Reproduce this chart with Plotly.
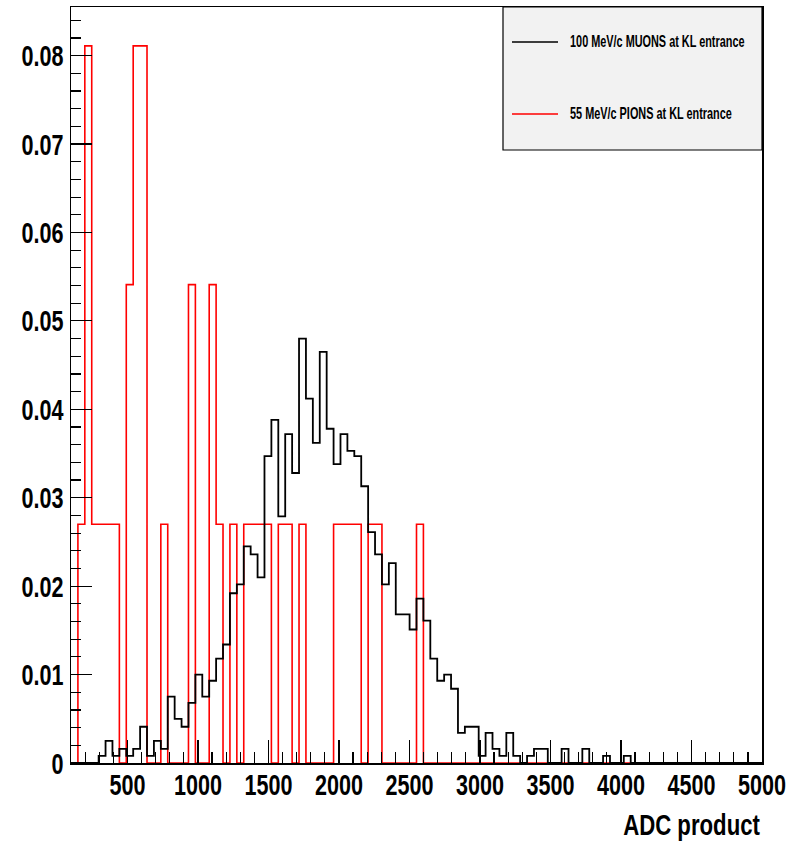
import numpy as np
import plotly.graph_objects as go

# Histogram binning (100 bins from 100 to 5000)
BIN_LOW = 100
BIN_HIGH = 5000
N_BINS = 100

# Normalised contents per bin (bins 0..80, rest zero)
muon_values = [
    0, 0, 0, 0, 0.0008, 0.0025, 0.0008, 0.0016, 0.0008, 0.0016,
    0.0041, 0.0008, 0.0025, 0.0016, 0.0075, 0.0050, 0.0041, 0.0068, 0.0100, 0.0075,
    0.0093, 0.0118, 0.0134, 0.0192, 0.0202, 0.0245, 0.0236, 0.0210, 0.0347, 0.0388,
    0.0279, 0.0372, 0.0328, 0.0480, 0.0412, 0.0362, 0.0465, 0.0378, 0.0338, 0.0372,
    0.0353, 0.0347, 0.0313, 0.0261, 0.0236, 0.0202, 0.0226, 0.0168, 0.0168, 0.0151,
    0.0186, 0.0161, 0.0118, 0.0093, 0.0100, 0.0084, 0.0034, 0.0041, 0.0041, 0.0008,
    0.0034, 0.0016, 0.0008, 0.0034, 0.0008, 0, 0.0008, 0.0016, 0.0016, 0,
    0, 0.0016, 0, 0, 0.0016, 0, 0, 0.0008, 0, 0,
    0.0008,
]
pion_values = [
    0, 0.0270, 0.0811, 0.0270, 0.0270, 0.0270, 0.0270, 0, 0.0541, 0.0811,
    0.0811, 0, 0, 0.0270, 0, 0, 0, 0.0541, 0, 0,
    0.0541, 0.0270, 0, 0.0270, 0, 0.0270, 0.0270, 0.0270, 0.0270, 0,
    0.0270, 0.0270, 0, 0.0270, 0, 0, 0, 0, 0.0270, 0.0270,
    0.0270, 0.0270, 0, 0.0270, 0.0270, 0, 0, 0, 0, 0,
    0.0270,
]

muon_label = "100 MeV/c MUONS at KL entrance"
pion_label = "55 MeV/c PIONS at KL entrance"
x_title = "ADC product"

x_tickvals = [500, 1000, 1500, 2000, 2500, 3000, 3500, 4000, 4500, 5000]
y_tickvals = [0, 0.01, 0.02, 0.03, 0.04, 0.05, 0.06, 0.07, 0.08]

edges = np.linspace(BIN_LOW, BIN_HIGH, N_BINS + 1)


def step_xy(vals):
    full = list(vals) + [0] * (N_BINS - len(vals))
    xs = list(edges[:-1]) + [edges[-1]]
    ys = full + [0]
    return xs, ys


FONT = "Liberation Sans, Arial, sans-serif"

fig = go.Figure()
px, py = step_xy(pion_values)
fig.add_trace(go.Scatter(x=px, y=py, mode="lines", line=dict(color="#ff0000", width=1.6, shape="hv"),
                         name=pion_label, showlegend=False, hoverinfo="skip"))
mx, my = step_xy(muon_values)
fig.add_trace(go.Scatter(x=mx, y=my, mode="lines", line=dict(color="#000000", width=1.8, shape="hv"),
                         name=muon_label, showlegend=False, hoverinfo="skip"))

L, R, T, B = 71, 37, 7, 80
W, H = 799, 843
PW, PH = W - L - R, H - T - B

fig.update_layout(
    width=W, height=H,
    margin=dict(l=L, r=R, t=T, b=B, autoexpand=False),
    paper_bgcolor="white", plot_bgcolor="white",
    font=dict(family=FONT, color="black"),
    showlegend=False,
)
fig.update_xaxes(
    range=[BIN_LOW, BIN_HIGH], showgrid=False, zeroline=False, automargin=False,
    showline=True, linecolor="black", linewidth=1.5, mirror=True,
    ticks="inside", ticklen=23, tickwidth=1.2, tickcolor="black",
    tickvals=x_tickvals, ticktext=[str(v) for v in x_tickvals],
    tickfont=dict(family=FONT, size=30, weight="bold"),
    minor=dict(dtick=100, tick0=0, ticks="inside", ticklen=11, tickwidth=1.2, tickcolor="black"),
)
fig.update_yaxes(
    range=[0, 0.0855], showgrid=False, zeroline=False, automargin=False,
    showline=True, linecolor="black", linewidth=1.5, mirror=True,
    ticks="inside", ticklen=21, tickwidth=1.2, tickcolor="black",
    tickvals=y_tickvals, ticktext=["0"] + ["%.2f" % v for v in y_tickvals[1:]],
    tickfont=dict(family=FONT, size=30, weight="bold"),
    minor=dict(dtick=0.002, tick0=0, ticks="inside", ticklen=10, tickwidth=1.2, tickcolor="black"),
)

# axis title, right-aligned at the end of the axis
fig.add_annotation(text="<b>" + x_title + "</b>", xref="paper", yref="paper", x=1.0, y=0,
                   xanchor="right", yanchor="top", yshift=-43, showarrow=False,
                   font=dict(family=FONT, size=30, color="black"))


# legend box (drawn manually to reproduce the ROOT TLegend layout)
def px_x(v):
    return (v - L) / PW


def px_y(v):
    return (H - B - v) / PH


fig.add_shape(type="rect", xref="paper", yref="paper", x0=px_x(503), x1=1.0,
              y0=px_y(150), y1=1.0, line=dict(color="black", width=1.2),
              fillcolor="#f2f2f2", layer="above")
for label, color, ypx in [(muon_label, "black", 42), (pion_label, "red", 114)]:
    yp = px_y(ypx)
    fig.add_shape(type="line", xref="paper", yref="paper",
                  x0=px_x(512), x1=px_x(558), y0=yp, y1=yp,
                  line=dict(color=color, width=1.6), layer="above")
    fig.add_annotation(text="<b>" + label + "</b>", xref="paper", yref="paper",
                       x=px_x(568), y=yp, xanchor="left", yanchor="middle",
                       showarrow=False, font=dict(family=FONT, size=17, color="black"))

# The reference uses a condensed rendering of Helvetica; squeeze text horizontally.
post = """
document.body.style.margin = '0';
document.body.style.padding = '0';
(function(){
  var gd = document.getElementById('{plot_id}');
  function squeeze(){
    gd.querySelectorAll('.xtick text').forEach(function(t){ apply(t, 0.72, 'c', -5); });
    gd.querySelectorAll('.ytick text').forEach(function(t){ apply(t, 0.72, 'r', 0); });
    gd.querySelectorAll('.annotation-text').forEach(function(t){
      if (t.textContent.indexOf('ADC') >= 0) { apply(t, 0.74, 'r', 0); }
      else { apply(t, 0.64, 'l', 0); }
    });
  }
  function apply(t, s, mode, dy){
    var tr = t.getAttribute('transform') || '';
    if (tr.indexOf('scale(') >= 0) return;
    var b = t.getBBox();
    var ax = mode === 'c' ? b.x + b.width / 2 : (mode === 'r' ? b.x + b.width : b.x);
    t.setAttribute('transform', tr + ' translate(' + ax + ',' + dy + ') scale(' + s + ',1) translate(' + (-ax) + ',0)');
  }
  squeeze();
  if (gd.on) { gd.on('plotly_afterplot', squeeze); }
  setTimeout(squeeze, 200);
})();
"""

fig.write_html("out.html", post_script=post, config={"displayModeBar": False, "staticPlot": True})
